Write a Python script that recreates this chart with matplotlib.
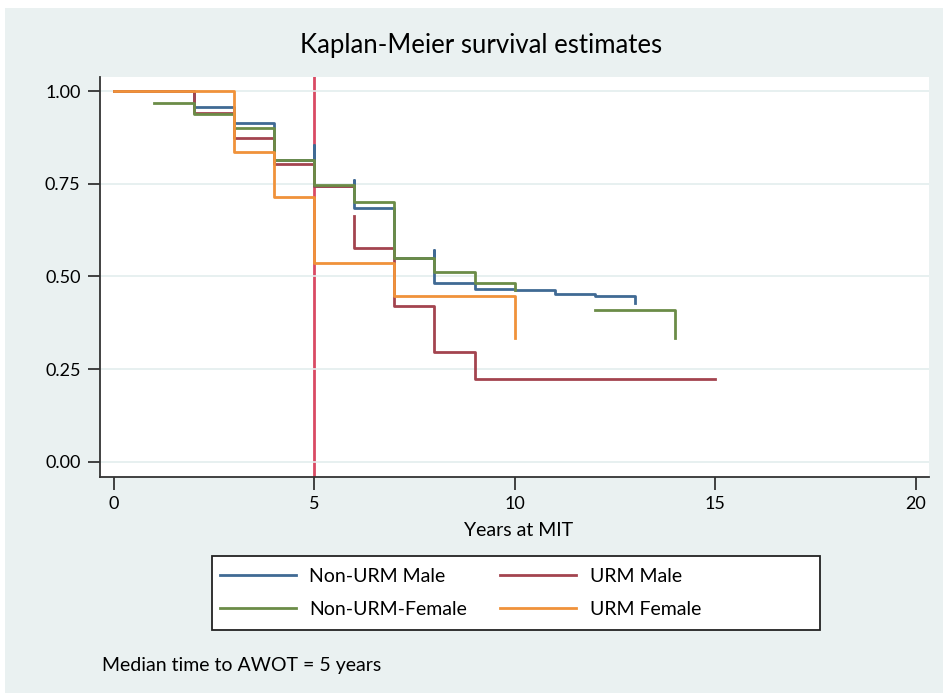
import numpy as np
import matplotlib
matplotlib.use("Agg")
import matplotlib.pyplot as plt
from matplotlib.patches import Rectangle

# Kaplan-Meier step data (years, survival). nan = gap in the drawn line,
# repeated years = short vertical ticks drawn by the original software
nonurm_male_t = [0, 2, 3, 4, 5, 5, 6, 6, 7, 8, 8, 9, 10, 11, 12, 13]
nonurm_male_s = [1.0, 0.958, 0.915, 0.814, 0.854, 0.745, 0.760, 0.685, 0.549,
                 0.570, 0.482, 0.466, 0.462, 0.452, 0.446, 0.427]

urm_male_t = [0, 2, 3, 4, 5, 6, 6, 6, 7, 8, 9, 15]
urm_male_s = [1.0, 0.942, 0.874, 0.802, 0.745, np.nan, 0.663, 0.576, 0.420,
              0.296, 0.222, 0.222]

nonurm_female_t = [1, 2, 3, 4, 5, 6, 7, 8, 9, 10, 10, 12, 14]
nonurm_female_s = [0.968, 0.938, 0.901, 0.814, 0.746, 0.700, 0.549, 0.512,
                   0.482, 0.463, np.nan, 0.409, 0.334]

urm_female_t = [0, 3, 4, 5, 7, 10]
urm_female_s = [1.0, 0.835, 0.714, 0.535, 0.447, 0.335]

median_years = 5
x_ticks = [0, 5, 10, 15, 20]
y_ticks = [0.0, 0.25, 0.5, 0.75, 1.0]

bg = "#eaf1f1"
text_font = ["Lato", "DejaVu Sans"]

fig = plt.figure(figsize=(9.43, 6.94), dpi=100, facecolor="white")
# light panel behind everything (thin white border around it in the original)
fig.patches.append(Rectangle((5 / 943, 1 / 694), 938 / 943, 685 / 694,
                             transform=fig.transFigure, facecolor=bg,
                             edgecolor="none", zorder=-10))

ax = fig.add_axes([100 / 943, 1 - 476.5 / 694, 829 / 943, 399.5 / 694])
ax.set_facecolor("white")

ax.axvline(median_years, color="#d94a64", lw=2, zorder=1)

ax.step(nonurm_male_t, nonurm_male_s, where="post", color="#406a94", lw=2,
        label="Non-URM Male", zorder=2)
ax.step(urm_male_t, urm_male_s, where="post", color="#a3444f", lw=2,
        label="URM Male", zorder=3)
ax.step(nonurm_female_t, nonurm_female_s, where="post", color="#6b8c47", lw=2,
        label="Non-URM-Female", zorder=4)
ax.step(urm_female_t, urm_female_s, where="post", color="#f0923a", lw=2,
        label="URM Female", zorder=5)

ax.set_xlim(-0.34, 20.33)
ax.set_ylim(-0.04, 1.038)
ax.set_xticks(x_ticks)
ax.set_yticks(y_ticks)
ax.set_yticklabels([f"{v:.2f}" for v in y_ticks])
ax.grid(axis="y", color="#e3eded", lw=1.2, zorder=0)
ax.grid(axis="x", visible=False)

for side in ["top", "right"]:
    ax.spines[side].set_visible(False)
for side in ["left", "bottom"]:
    ax.spines[side].set_color("#333333")
    ax.spines[side].set_linewidth(1.3)
ax.tick_params(direction="out", length=9, width=1.3, color="#333333",
               labelsize=13, pad=5)
for lab in ax.get_xticklabels() + ax.get_yticklabels():
    lab.set_family(text_font)

fig.text(481 / 943, 1 - 45 / 694, "Kaplan-Meier survival estimates",
         ha="center", va="center", fontsize=18.5, family=text_font)
fig.text(519 / 943, 1 - 530 / 694, "Years at MIT", ha="center", va="center",
         fontsize=14, family=text_font)

# legend frame drawn separately so it can be wider than its entries
fig.patches.append(Rectangle((212 / 943, 1 - 630 / 694), 608 / 943, 74 / 694,
                             transform=fig.transFigure, facecolor="white",
                             edgecolor="#222222", lw=1.3, zorder=5))

# legend order: row 1 = Non-URM Male, URM Male; row 2 = Non-URM-Female, URM Female
handles, labels = ax.get_legend_handles_labels()
order = [0, 2, 1, 3]
leg = fig.legend([handles[i] for i in order], [labels[i] for i in order],
                 ncol=2, loc="center left",
                 bbox_to_anchor=(220 / 943, 1 - 593 / 694),
                 bbox_transform=fig.transFigure, frameon=False,
                 prop={"family": text_font, "size": 14},
                 handlelength=3.9, handletextpad=0.7, labelspacing=0.8,
                 columnspacing=1.7, borderpad=0, borderaxespad=0)
leg.set_zorder(6)

fig.text(102 / 943, 1 - 665 / 694, "Median time to AWOT = 5 years",
         ha="left", va="center", fontsize=14, family=text_font)

fig.savefig("out.png", dpi=100, facecolor=fig.get_facecolor())
